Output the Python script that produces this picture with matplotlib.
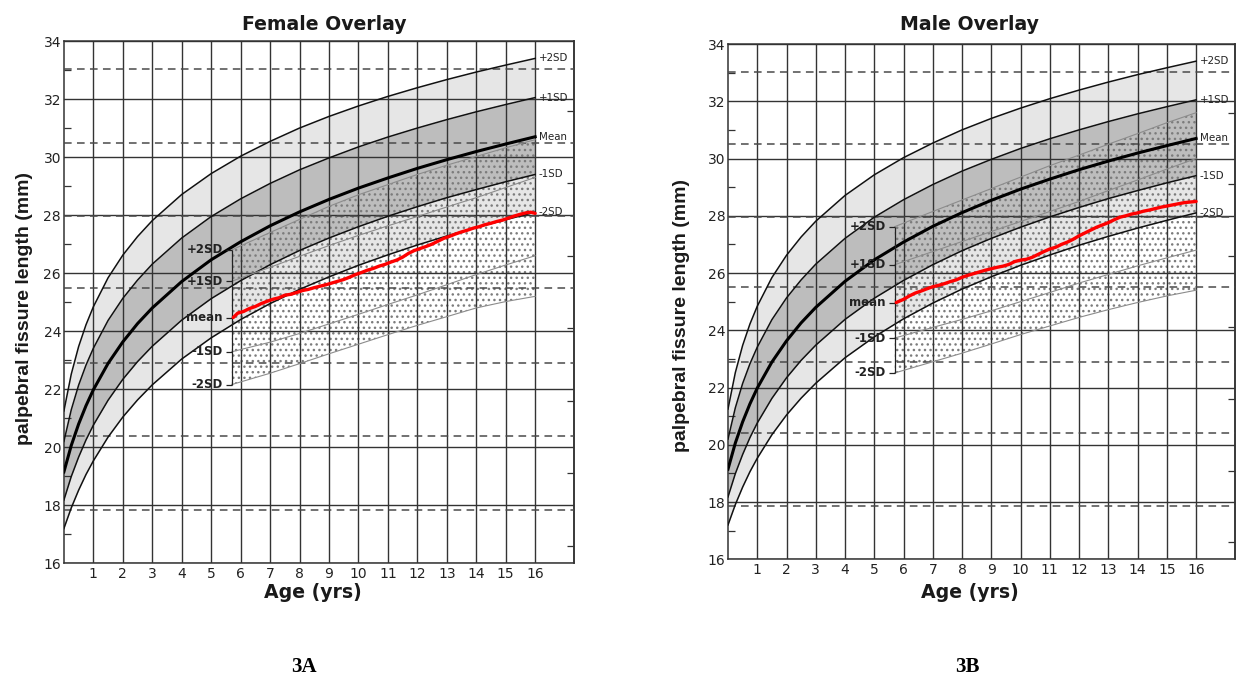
import matplotlib
matplotlib.use("Agg")
import matplotlib.pyplot as plt

# ---------------- data ----------------
ages = [0, 0.25, 0.5, 0.75, 1, 1.5, 2, 2.5, 3, 4, 5, 6, 7, 8, 9, 10, 11, 12, 13, 14, 15, 16]
ref_plus2 = [21.25, 22.52, 23.47, 24.22, 24.84, 25.84, 26.62, 27.26, 27.81, 28.71, 29.43, 30.03,
             30.54, 31.00, 31.40, 31.76, 32.09, 32.39, 32.67, 32.93, 33.17, 33.40]
ref_plus1 = [20.20, 21.29, 22.14, 22.83, 23.41, 24.37, 25.13, 25.76, 26.31, 27.21, 27.95, 28.56,
             29.09, 29.56, 29.97, 30.35, 30.69, 31.00, 31.29, 31.56, 31.81, 32.05]
ref_mean = [19.15, 20.06, 20.80, 21.43, 21.98, 22.89, 23.63, 24.26, 24.80, 25.71, 26.46, 27.08,
            27.63, 28.11, 28.54, 28.93, 29.28, 29.61, 29.91, 30.19, 30.45, 30.70]
ref_minus1 = [18.18, 18.99, 19.66, 20.25, 20.76, 21.62, 22.34, 22.95, 23.48, 24.38, 25.12, 25.74,
              26.29, 26.78, 27.21, 27.60, 27.96, 28.29, 28.60, 28.88, 29.15, 29.40]
ref_minus2 = [17.20, 17.91, 18.52, 19.06, 19.53, 20.35, 21.04, 21.63, 22.15, 23.04, 23.77, 24.40,
              24.95, 25.44, 25.87, 26.27, 26.63, 26.97, 27.28, 27.57, 27.84, 28.10]
ref_labels = ["+2SD", "+1SD", "Mean", "-1SD", "-2SD"]

dashed_levels = [33.03, 30.50, 27.97, 25.50, 22.90, 20.40, 17.85]
right_ticks = [16.6, 19.1, 21.6, 24.1, 26.6, 29.1, 31.6]

ov_ages = [5.7, 7, 8, 9, 10, 11, 12, 13, 14, 15, 16]
fem_ov_plus2 = [26.80, 27.40, 27.85, 28.30, 28.70, 29.05, 29.40, 29.72, 30.02, 30.32, 30.60]
fem_ov_plus1 = [25.72, 26.20, 26.58, 26.95, 27.30, 27.63, 27.95, 28.28, 28.60, 28.95, 29.30]
fem_ov_minus1 = [23.29, 23.62, 23.92, 24.25, 24.58, 24.92, 25.25, 25.60, 25.95, 26.28, 26.60]
fem_ov_minus2 = [22.16, 22.55, 22.88, 23.22, 23.55, 23.88, 24.20, 24.50, 24.80, 25.02, 25.20]
fem_ov_start_mean = 24.47

male_ov_plus2 = [27.62, 28.15, 28.55, 28.95, 29.35, 29.75, 30.12, 30.50, 30.87, 31.25, 31.60]
male_ov_plus1 = [26.29, 26.75, 27.10, 27.45, 27.80, 28.15, 28.50, 28.88, 29.25, 29.63, 30.00]
male_ov_minus1 = [23.73, 24.10, 24.38, 24.68, 25.00, 25.32, 25.65, 25.95, 26.25, 26.53, 26.80]
male_ov_minus2 = [22.51, 22.90, 23.20, 23.52, 23.85, 24.15, 24.45, 24.72, 24.97, 25.20, 25.40]
male_ov_start_mean = 24.97

ov_labels = ["+2SD", "+1SD", "mean", "-1SD", "-2SD"]

fem_red_x = [5.75, 5.9, 6.1, 6.3, 6.5, 6.7, 6.9, 7.1, 7.3, 7.5, 7.7, 7.9, 8.1, 8.3, 8.5, 8.7, 8.9,
             9.1, 9.3, 9.5, 9.7, 9.9, 10.1, 10.3, 10.5, 10.7, 10.9, 11.1, 11.3, 11.5, 11.7, 11.9,
             12.1, 12.3, 12.5, 12.7, 12.9, 13.1, 13.3, 13.5, 13.7, 13.9, 14.1, 14.3, 14.5, 14.7,
             14.9, 15.1, 15.3, 15.5, 15.7, 15.85, 16.0]
fem_red_y = [24.47, 24.62, 24.68, 24.78, 24.85, 24.95, 25.03, 25.10, 25.15, 25.24, 25.27, 25.33,
             25.40, 25.44, 25.50, 25.55, 25.60, 25.66, 25.72, 25.78, 25.86, 25.95, 26.02, 26.10,
             26.16, 26.24, 26.30, 26.38, 26.45, 26.55, 26.68, 26.78, 26.85, 26.92, 27.00, 27.10,
             27.20, 27.27, 27.35, 27.42, 27.48, 27.55, 27.60, 27.67, 27.72, 27.78, 27.83, 27.90,
             27.97, 28.03, 28.08, 28.10, 28.06]

male_red_x = [5.75, 6.0, 6.2, 6.4, 6.6, 6.8, 7.0, 7.2, 7.4, 7.6, 7.8, 8.0, 8.2, 8.4, 8.6, 8.8, 9.0,
              9.2, 9.4, 9.6, 9.8, 10.0, 10.2, 10.4, 10.6, 10.8, 11.0, 11.2, 11.4, 11.6, 11.8, 12.0,
              12.2, 12.4, 12.6, 12.8, 13.0, 13.2, 13.4, 13.6, 13.8, 14.0, 14.2, 14.4, 14.6, 14.8,
              15.0, 15.2, 15.4, 15.6, 15.8, 16.0]
male_red_y = [24.97, 25.08, 25.20, 25.30, 25.37, 25.45, 25.52, 25.57, 25.63, 25.70, 25.76, 25.85,
              25.92, 25.98, 26.04, 26.10, 26.15, 26.20, 26.24, 26.30, 26.40, 26.45, 26.48, 26.55,
              26.65, 26.75, 26.84, 26.90, 27.00, 27.08, 27.18, 27.30, 27.40, 27.50, 27.60, 27.68,
              27.76, 27.86, 27.95, 28.00, 28.06, 28.10, 28.16, 28.20, 28.25, 28.30, 28.34, 28.38,
              28.42, 28.46, 28.48, 28.50]

x_ticks = list(range(1, 17))
y_ticks = [16, 18, 20, 22, 24, 26, 28, 30, 32, 34]
y_minor = [17, 19, 21, 23, 25, 27, 29, 31, 33]

# ---------------- figure ----------------
fig = plt.figure(figsize=(12.36, 6.78), dpi=100)
fig.patch.set_facecolor("white")

GRID = "#333333"


def panel(rect, ov_p2, ov_p1, ov_m1, ov_m2, ov_mean0, red_x, red_y):
    ax = fig.add_axes(rect)
    ax.set_xlim(0, 17.33)
    ax.set_ylim(16, 34)
    ax.set_xticks(x_ticks)
    ax.set_yticks(y_ticks)
    ax.set_yticks(y_minor, minor=True)
    ax.set_xticklabels([str(t) for t in x_ticks], fontsize=10)
    ax.set_yticklabels([str(t) for t in y_ticks], fontsize=10)
    ax.tick_params(axis="x", which="major", length=0, pad=2.5, colors="#222222")
    ax.tick_params(axis="y", which="major", length=0, pad=2, colors="#222222")
    ax.tick_params(axis="y", which="minor", direction="in", length=5, width=0.9,
                   color=GRID, left=True, right=False)
    ax.grid(True, which="major", color=GRID, linewidth=1.0)
    ax.set_axisbelow(False)
    for s in ax.spines.values():
        s.set_color("#333333")
        s.set_linewidth(1.1)

    sec = ax.secondary_yaxis("right")
    sec.set_yticks(right_ticks)
    sec.tick_params(direction="in", length=5, width=0.9, color=GRID, labelright=False)
    sec.spines["right"].set_linewidth(1.1)
    sec.spines["right"].set_color("#333333")

    # bands
    ax.fill_between(ages, ref_plus1, ref_plus2, color="#e6e6e6", lw=0, zorder=1)
    ax.fill_between(ages, ref_minus1, ref_plus1, color="#bdbdbd", lw=0, zorder=1)
    ax.fill_between(ages, ref_minus2, ref_minus1, color="#e6e6e6", lw=0, zorder=1)

    # overlay stipple
    ax.fill_between(ov_ages, ov_m2, ov_p2, facecolor="none", edgecolor="#7c7c7c",
                    hatch="...", lw=0, zorder=1.5)

    for lvl in dashed_levels:
        ax.axhline(lvl, color="#4a4a4a", lw=1.1, ls=(0, (5, 3.5)), zorder=2.6)

    # reference curves
    for vals in (ref_plus2, ref_plus1, ref_minus1, ref_minus2):
        ax.plot(ages, vals, color="#111111", lw=1.1, zorder=3)
    ax.plot(ages, ref_mean, color="#000000", lw=2.2, zorder=3)

    ends = [ref_plus2[-1], ref_plus1[-1], ref_mean[-1], ref_minus1[-1], ref_minus2[-1]]
    for lab, v in zip(ref_labels, ends):
        ax.text(16.12, v, lab, fontsize=7.4, va="center", ha="left", color="#222222", zorder=5)

    # overlay curves
    for vals in (ov_p2, ov_p1, ov_m1, ov_m2):
        ax.plot(ov_ages, vals, color="#8c8c8c", lw=0.8, zorder=3)
    ax.vlines(ov_ages[0], ov_m2[0], ov_p2[0], color="#222222", lw=0.9, zorder=3.5)
    starts = [ov_p2[0], ov_p1[0], ov_mean0, ov_m1[0], ov_m2[0]]
    for lab, v in zip(ov_labels, starts):
        ax.hlines(v, ov_ages[0] - 0.18, ov_ages[0], color="#222222", lw=0.9, zorder=3.5)
        ax.text(ov_ages[0] - 0.3, v, lab, fontsize=8.5, fontweight="bold", ha="right",
                va="center", color="#222222", zorder=5)

    ax.plot(red_x, red_y, color="#ff0000", lw=2.4, zorder=4, solid_capstyle="round")
    return ax


ax1 = panel([63.9 / 1236, 114.7 / 678, 510.4 / 1236, 522.3 / 678],
            fem_ov_plus2, fem_ov_plus1, fem_ov_minus1, fem_ov_minus2, fem_ov_start_mean,
            fem_red_x, fem_red_y)
ax2 = panel([728 / 1236, 118.7 / 678, 507 / 1236, 515.3 / 678],
            male_ov_plus2, male_ov_plus1, male_ov_minus1, male_ov_minus2, male_ov_start_mean,
            male_red_x, male_red_y)

# titles and labels
fig.text(324 / 1236, 1 - 24 / 678, "Female Overlay", ha="center", va="center",
         fontsize=13.6, fontweight="bold", color="#1a1a1a")
fig.text(969 / 1236, 1 - 25 / 678, "Male Overlay", ha="center", va="center",
         fontsize=13.6, fontweight="bold", color="#1a1a1a")
fig.text(313 / 1236, 1 - 593 / 678, "Age (yrs)", ha="center", va="center",
         fontsize=13.6, fontweight="bold", color="#1a1a1a")
fig.text(970 / 1236, 1 - 592 / 678, "Age (yrs)", ha="center", va="center",
         fontsize=13.6, fontweight="bold", color="#1a1a1a")
fig.text(25 / 1236, 1 - 309 / 678, "palpebral fissure length (mm)", ha="center", va="center",
         rotation=90, fontsize=14, fontweight="bold", family="Liberation Sans", color="#1a1a1a")
fig.text(681 / 1236, 1 - 316 / 678, "palpebral fissure length (mm)", ha="center", va="center",
         rotation=90, fontsize=14, fontweight="bold", family="Liberation Sans", color="#1a1a1a")
fig.text(304 / 1236, 1 - 667 / 678, "3A", ha="center", va="center",
         fontsize=15, fontweight="bold", family="Liberation Serif")
fig.text(967 / 1236, 1 - 667 / 678, "3B", ha="center", va="center",
         fontsize=15, fontweight="bold", family="Liberation Serif")

fig.savefig("out.png", dpi=100)
